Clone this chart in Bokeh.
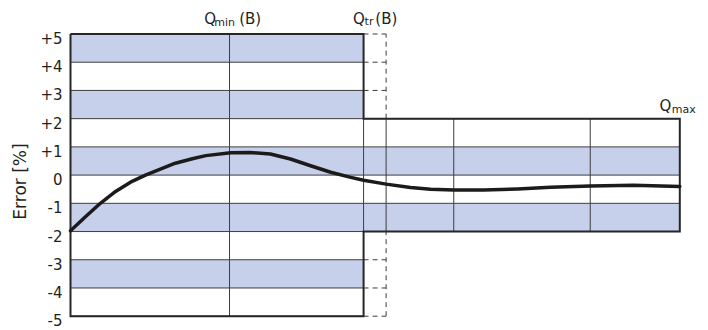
import math
from bokeh.plotting import figure
from bokeh.models import Range1d, ColumnDataSource
from bokeh.core.properties import value
from bokeh.embed import file_html
from bokeh.resources import INLINE

# ---------------- data ----------------
# flow axis expressed in % of Qmax
q_min = 26.1
q_tr = 48.1
q_tr_dash = 51.8
q_grid_right = [62.9, 85.3]
q_max = 100.0

wide_limit = 5     # +/- % below Qtr
narrow_limit = 2   # +/- % above Qtr

tick_values = [5, 4, 3, 2, 1, 0, -1, -2, -3, -4, -5]
tick_labels = ["+5", "+4", "+3", "+2", "+1", "0", "-1", "-2", "-3", "-4", "-5"]

band_bottoms_left = [4, 2, 0, -2, -4]
band_bottoms_right = [0, -2]

curve_q = [0, 2.5, 4.9, 7.4, 9.85, 12.3, 17.2, 20.0, 22.2, 26.3, 29.5, 32.8, 36.1, 39.4, 42.7,
           46.0, 48.1, 51.8, 55.8, 59.1, 62.9, 67.8, 73.4, 78.8, 85.3, 92.4, 100]
curve_err = [-1.97, -1.47, -1.0, -0.58, -0.25, 0.0, 0.42, 0.58, 0.69, 0.79, 0.80, 0.75, 0.57, 0.33, 0.10,
             -0.08, -0.18, -0.32, -0.44, -0.50, -0.53, -0.53, -0.49, -0.43, -0.39, -0.36, -0.40]

y_label = "Error [%]"

# ---------------- style ----------------
FONT = value("DejaVu Sans")
TXT = "#231f20"
BAND = "#c6d0ea"
THIN = "#3d3d3d"
OUT = "#262626"

p = figure(width=708, height=330, output_backend="svg", toolbar_location=None,
           x_range=Range1d(-11.489, 104.71), y_range=Range1d(-5.507, 6.187),
           min_border_left=0, min_border_right=0, min_border_top=0, min_border_bottom=0)
p.axis.visible = False
p.grid.visible = False
p.outline_line_color = None
p.background_fill_color = "white"

# bands
p.quad(left=[0] * len(band_bottoms_left), right=[q_tr] * len(band_bottoms_left),
       bottom=band_bottoms_left, top=[b + 1 for b in band_bottoms_left],
       fill_color=BAND, line_color=None)
p.quad(left=[q_tr] * len(band_bottoms_right), right=[q_max] * len(band_bottoms_right),
       bottom=band_bottoms_right, top=[b + 1 for b in band_bottoms_right],
       fill_color=BAND, line_color=None)

# thin horizontal lines
left_levels = list(range(-wide_limit, wide_limit + 1))
right_levels = list(range(-narrow_limit, narrow_limit + 1))
p.multi_line(xs=[[0, q_tr] for _ in left_levels], ys=[[v, v] for v in left_levels],
             line_color=THIN, line_width=1)
p.multi_line(xs=[[q_tr, q_max] for _ in right_levels], ys=[[v, v] for v in right_levels],
             line_color=THIN, line_width=1)

# thin vertical lines
vx = [q_min, q_tr, q_tr_dash] + q_grid_right
vy = [[-wide_limit, wide_limit], [-narrow_limit, narrow_limit], [-narrow_limit, narrow_limit]] + \
     [[-narrow_limit, narrow_limit] for _ in q_grid_right]
p.multi_line(xs=[[x, x] for x in vx], ys=vy, line_color=THIN, line_width=1)

# dashed Qtr extension
dash_levels = [v for v in left_levels if abs(v) > narrow_limit]
p.multi_line(xs=[[q_tr, q_tr_dash] for _ in dash_levels], ys=[[v, v] for v in dash_levels],
             line_color=THIN, line_width=1, line_dash="5 4")
p.multi_line(xs=[[q_tr_dash, q_tr_dash], [q_tr_dash, q_tr_dash]],
             ys=[[narrow_limit, wide_limit], [-wide_limit, -narrow_limit]],
             line_color=THIN, line_width=1, line_dash="5 4")

# thick outline
ox = [0, q_tr, q_tr, q_max, q_max, q_tr, q_tr, 0, 0]
oy = [wide_limit, wide_limit, narrow_limit, narrow_limit, -narrow_limit, -narrow_limit,
      -wide_limit, -wide_limit, wide_limit]
p.line(ox, oy, line_color=OUT, line_width=2, line_join="miter")

# error curve
p.line(curve_q, curve_err, line_color="#1c1a1a", line_width=3.5, line_join="round", line_cap="round")

# tick labels
tick_src = ColumnDataSource(dict(x=[-1.313] * len(tick_values), y=tick_values, t=tick_labels))
p.text(x="x", y="y", text="t", source=tick_src, text_align="right", text_baseline="middle",
       y_offset=4, text_font=FONT, text_font_size="15px", text_color=TXT)

# y label
p.text(x=[-8.37], y=[-0.227], text=[y_label], angle=math.pi / 2, text_align="center",
       text_baseline="middle", text_font=FONT, text_font_size="17px", text_color=TXT)

# Q labels (main parts + subscripts)
main_src = ColumnDataSource(dict(
    x=[q_min, q_min, q_tr, q_tr, q_max],
    y=[wide_limit, wide_limit, wide_limit, wide_limit, narrow_limit],
    t=["Q", "(B)", "Q", "(B)", "Q"],
    xo=[-25.3, 9.7, -10.6, 11.7, -20.3],
    yo=[-14.5, -14.5, -14.8, -14.8, -12.5],
))
p.text(x="x", y="y", text="t", x_offset="xo", y_offset="yo", source=main_src,
       text_align="left", text_baseline="alphabetic", text_font=FONT,
       text_font_size="15px", text_color=TXT)
sub_src = ColumnDataSource(dict(
    x=[q_min, q_tr, q_max],
    y=[wide_limit, wide_limit, narrow_limit],
    t=["min", "tr", "max"],
    xo=[-15.3, 1.0, -8.0],
    yo=[-11.5, -12.0, -9.5],
))
p.text(x="x", y="y", text="t", x_offset="xo", y_offset="yo", source=sub_src,
       text_align="left", text_baseline="alphabetic", text_font=FONT,
       text_font_size="11px", text_color=TXT)

open("out.html", "w").write(file_html(p, INLINE))
